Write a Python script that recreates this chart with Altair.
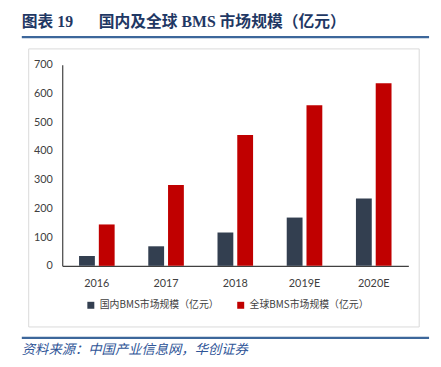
import altair as alt
import pandas as pd

years = ["2016", "2017", "2018", "2019E", "2020E"]
series = ["国内BMS市场规模（亿元）", "全球BMS市场规模（亿元）"]
domestic = [34, 68, 116, 168, 234]
global_vals = [144, 281, 455, 559, 635]
y_ticks = [0, 100, 200, 300, 400, 500, 600, 700]
colors = ["#333F50", "#C00000"]

rows = []
for y, d, g in zip(years, domestic, global_vals):
    rows.append({"year": y, "series": series[0], "value": d})
    rows.append({"year": y, "series": series[1], "value": g})
df = pd.DataFrame(rows)

AX_FONT = "Lato"
CJK = "Noto Sans CJK SC"

bars = alt.Chart(df).mark_bar().encode(
    x=alt.X("year:N", sort=years,
            scale=alt.Scale(paddingInner=0.486, paddingOuter=0.243),
            axis=alt.Axis(title=None, labelAngle=0, ticks=False, labelPadding=12,
                          domainColor="#404040", domainWidth=1.2,
                          labelFont=AX_FONT, labelFontSize=11, labelColor="#404040")),
    xOffset=alt.XOffset("series:N", sort=series,
                        scale=alt.Scale(paddingInner=0.2, paddingOuter=0)),
    y=alt.Y("value:Q", scale=alt.Scale(domain=[0, 700], nice=False),
            axis=alt.Axis(title=None, values=y_ticks, grid=False, ticks=False,
                          labelPadding=10, domainColor="#404040", domainWidth=1.2,
                          labelFont=AX_FONT, labelFontSize=11, labelColor="#404040")),
    color=alt.Color("series:N", sort=series,
                    scale=alt.Scale(domain=series, range=colors),
                    legend=alt.Legend(title=None, orient="none", direction="horizontal",
                                      legendX=24, legendY=239, symbolType="square",
                                      symbolSize=50, symbolStrokeWidth=0,
                                      labelFont=CJK, labelFontSize=10, labelColor="#404040",
                                      columnPadding=17, labelLimit=300)),
)

box = alt.Chart(pd.DataFrame({"a": [0]})).mark_rect(
    fillOpacity=0, stroke="#D9D9D9", strokeWidth=1
).encode(x=alt.value(-34), x2=alt.value(362), y=alt.value(-16), y2=alt.value(266))

top_line = alt.Chart(pd.DataFrame({"a": [0]})).mark_rule(
    color="#3D679B", strokeWidth=2.2
).encode(x=alt.value(-41), x2=alt.value(372), y=alt.value(-28))

bottom_line = alt.Chart(pd.DataFrame({"a": [0]})).mark_rule(
    color="#3D679B", strokeWidth=2.2
).encode(x=alt.value(-41), x2=alt.value(372), y=alt.value(277))

title_a = alt.Chart(pd.DataFrame({"t": ["图表 19"]})).mark_text(
    align="left", baseline="middle", font="Liberation Serif, Noto Sans CJK SC",
    fontSize=16, fontWeight="bold", color="#1F3864"
).encode(text="t:N", x=alt.value(-41), y=alt.value(-43))

title_b = alt.Chart(pd.DataFrame({"t": ["国内及全球 BMS 市场规模（亿元）"]})).mark_text(
    align="left", baseline="middle", font="Liberation Serif, Noto Sans CJK SC",
    fontSize=16, fontWeight="bold", color="#1F3864"
).encode(text="t:N", x=alt.value(37), y=alt.value(-43))

source = alt.Chart(pd.DataFrame({"t": ["资料来源：中国产业信息网，华创证券"]})).mark_text(
    align="left", baseline="middle", font=CJK, fontSize=13.5, fontStyle="italic",
    color="#2F5597"
).encode(text="t:N", x=alt.value(-41), y=alt.value(289))

chart = alt.layer(box, bars, top_line, bottom_line, title_a, title_b, source).properties(
    width=351, height=204,
    padding={"left": 55, "top": 55, "right": 25, "bottom": 92},
    autosize=alt.AutoSizeParams(type="none"),
).configure_view(stroke=None)

chart.save("out.html", embed_options={"renderer": "svg", "actions": False})
